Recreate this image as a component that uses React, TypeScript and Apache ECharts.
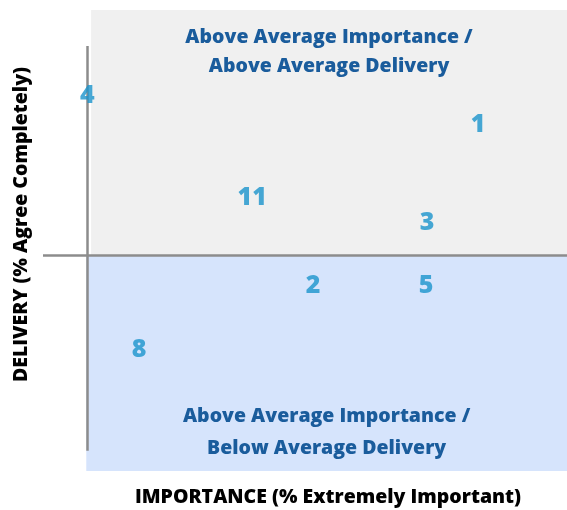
import React, { useEffect, useRef } from "react";
import * as echarts from "echarts";

// Item labels and their positions (Importance %, Delivery %)
const ITEM_NAMES = ["4", "1", "11", "3", "2", "5", "8"];
const IMPORTANCE = [0.2, 81.5, 34.5, 70.9, 47.2, 70.7, 11.0];
const DELIVERY = [82.0, 75.6, 59.8, 54.4, 40.8, 40.8, 26.8];

// Axis extents and reference lines
const X_MIN = -9;
const X_MAX = 100;
const Y_MIN = 0;
const Y_MAX = 100;
const AVG_DELIVERY = 46.7;
const Y_AXIS_AT = 0.3;
const Y_AXIS_FROM = 4.4;
const Y_AXIS_TO = 92.2;
const UPPER_AREA_FROM = 1.0;
const LOWER_AREA_FROM = 0;

const UPPER_LABEL = "Above Average Importance /\nAbove Average Delivery";
const LOWER_LABEL = "Above Average Importance /\nBelow Average Delivery";
const X_TITLE = "IMPORTANCE (% Extremely Important)";
const Y_TITLE = "DELIVERY (% Agree Completely)";

const FONT = "'Open Sans', sans-serif";
const WEIGHT = 800;
const TEXT_SIZE = 19.5;

export default function App() {
  const ref = useRef<HTMLDivElement>(null);
  useEffect(() => {
    if (!ref.current) return;
    const chart = echarts.init(ref.current, undefined, { renderer: "svg" });
    const data = ITEM_NAMES.map((n, i) => ({ name: n, value: [IMPORTANCE[i], DELIVERY[i]] }));
    chart.setOption({
      animation: false,
      textStyle: { fontFamily: FONT },
      grid: { left: 43, right: 0, top: 10, bottom: 37 },
      xAxis: {
        type: "value",
        min: X_MIN,
        max: X_MAX,
        axisLine: { show: false },
        axisTick: { show: false },
        axisLabel: { show: false },
        splitLine: { show: false },
        name: X_TITLE,
        nameLocation: "middle",
        nameGap: 14,
        nameTextStyle: {
          fontFamily: FONT,
          fontWeight: WEIGHT,
          fontSize: TEXT_SIZE,
          color: "#000",
          padding: [0, 0, 0, 46],
        },
      },
      yAxis: {
        type: "value",
        min: Y_MIN,
        max: Y_MAX,
        axisLine: { show: false },
        axisTick: { show: false },
        axisLabel: { show: false },
        splitLine: { show: false },
        name: Y_TITLE,
        nameLocation: "middle",
        nameGap: 14,
        nameTextStyle: {
          fontFamily: FONT,
          fontWeight: WEIGHT,
          fontSize: TEXT_SIZE,
          color: "#000",
          padding: [0, 0, 0, 32],
        },
      },
      series: [
        {
          type: "scatter",
          data,
          symbolSize: 0,
          clip: false,
          silent: true,
          z: 5,
          label: {
            show: true,
            position: "inside",
            formatter: "{b}",
            fontFamily: FONT,
            fontWeight: WEIGHT,
            fontSize: 25,
            color: "#1a94cc",
          },
          markArea: {
            silent: true,
            z: 1,
            data: [
              [
                {
                  coord: [UPPER_AREA_FROM, AVG_DELIVERY],
                  itemStyle: { color: "#f0f0f0" },
                  label: {
                    show: true,
                    position: "insideTop",
                    distance: 11,
                    formatter: UPPER_LABEL,
                    fontFamily: FONT,
                    fontWeight: WEIGHT,
                    fontSize: TEXT_SIZE,
                    lineHeight: 29,
                    color: "#1a5c9c",
                    align: "center",
                  },
                },
                { coord: [X_MAX, Y_MAX] },
              ],
              [
                {
                  coord: [LOWER_AREA_FROM, Y_MIN],
                  itemStyle: { color: "#d6e4fc" },
                  label: {
                    show: true,
                    position: "insideBottom",
                    distance: 9,
                    formatter: LOWER_LABEL,
                    fontFamily: FONT,
                    fontWeight: WEIGHT,
                    fontSize: TEXT_SIZE,
                    lineHeight: 32,
                    color: "#1a5c9c",
                    align: "center",
                  },
                },
                { coord: [X_MAX, AVG_DELIVERY] },
              ],
            ],
          },
          markLine: {
            silent: true,
            symbol: "none",
            z: 3,
            label: { show: false },
            data: [
              [
                { coord: [X_MIN, AVG_DELIVERY], lineStyle: { color: "#8c8c8c", width: 2.5, type: "solid" } },
                { coord: [X_MAX, AVG_DELIVERY] },
              ],
              [
                { coord: [Y_AXIS_AT, Y_AXIS_FROM], lineStyle: { color: "#8c8c8c", width: 2.5, type: "solid" } },
                { coord: [Y_AXIS_AT, Y_AXIS_TO] },
              ],
            ],
          },
        },
      ],
    });
    return () => chart.dispose();
  }, []);
  return <div ref={ref} style={{ width: 567, height: 510, position: "fixed", left: 0, top: 0 }} />;
}
